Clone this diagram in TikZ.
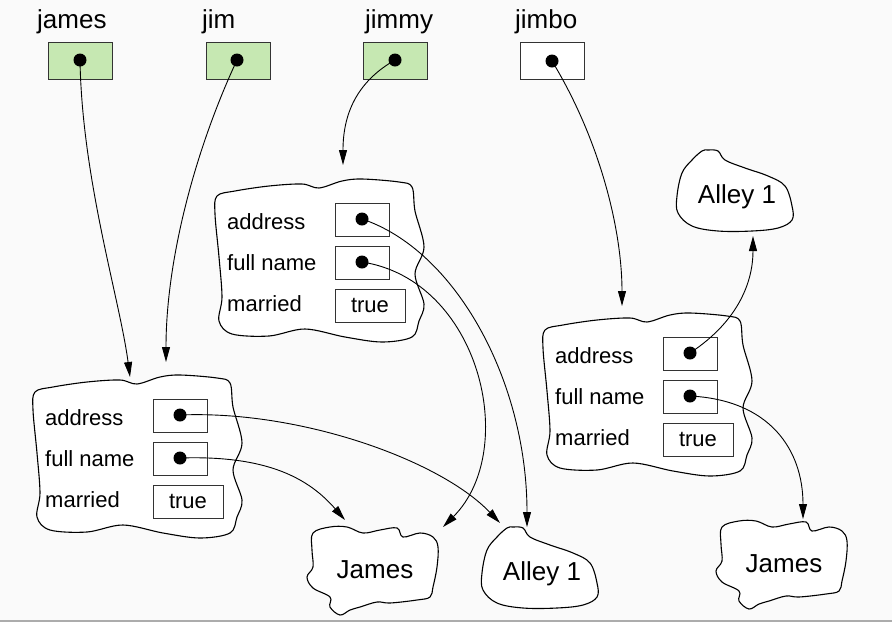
\documentclass[tikz,border=0pt]{standalone}
\usepackage{fontspec}
\setmainfont{Liberation Sans}
\usetikzlibrary{arrows.meta}

\definecolor{bgcol}{HTML}{FAFAFA}
\definecolor{varfill}{HTML}{C6E8B2}
\definecolor{edge}{HTML}{333333}

\tikzset{
  blob/.style={draw=black, line width=1.1pt, fill=white},
  cell/.style={draw=edge, line width=1.1pt, fill=white, inner sep=0pt, anchor=north west},
  varcell/.style={cell, fill=varfill, minimum width=64pt, minimum height=37pt},
  dot/.style={circle, fill=black, inner sep=0pt, minimum size=13pt},
  smalltext/.style={font=\fontsize{22}{26}\selectfont, inner sep=0pt},
  bigtext/.style={font=\fontsize{26}{30}\selectfont, inner sep=0pt},
  ptr/.style={line width=0.9pt, -{Triangle[length=15pt, width=8pt]}},
  % a record object: three labelled fields inside a wobbly outline
  record/.pic={
    \draw[blob] plot[smooth cycle, tension=0.55] coordinates {
      (-118,-7) (-100,-12) (-66,-17) (-33,-19) (-16,-15) (7,-22) (27,-24)
      (64,-21) (77,-16) (80,8) (89,44) (80,71) (89,101) (84,118) (77,134)
      (47,139) (10,134) (-30,126) (-66,133) (-103,131) (-116,118)
      (-113,94) (-116,54) (-120,11)};
    \node[cell, minimum width=54pt, minimum height=33pt] (-addr) at (0,0) {};
    \node[cell, minimum width=54pt, minimum height=33pt] (-name) at (0,43) {};
    \node[cell, minimum width=70pt, minimum height=33pt] (-flag) at (0,86) {};
    \node[dot] (-adot) at (27,16) {};
    \node[dot] (-ndot) at (27,59) {};
    \node[smalltext, anchor=base] (-true) at (35,109) {true};
    \node[smalltext, anchor=base west] (-la) at (-108,26) {address};
    \node[smalltext, anchor=base west] (-ln) at (-108,67) {full name};
    \node[smalltext, anchor=base west] (-lm) at (-108,108) {married};
  },
  % a name string object
  jamesblob/.pic={
    \draw[blob] plot[smooth cycle, tension=0.6] coordinates {
      (-62,-37) (-45,-43) (-28,-43) (-12,-37) (5,-40) (22,-42) (28,-33)
      (45,-37) (58,-33) (63,-23) (62,-3) (58,17) (55,27) (42,30) (15,33)
      (2,32) (-15,37) (-25,40) (-35,45) (-45,37) (-45,27) (-62,18)
      (-68,7) (-62,-3) (-63,-20)};
    \node[bigtext] (-t) at (0,0) {\tikzpictext};
  },
  % an address string object
  alleyblob/.pic={
    \draw[blob] plot[smooth cycle, tension=0.6] coordinates {
      (-29,-47) (-19,-46) (-12,-37) (8,-29) (31,-21) (48,-11) (55,9)
      (55,23) (41,31) (15,34) (-19,34) (-45,29) (-59,16) (-60,-1)
      (-55,-24) (-45,-37) (-35,-46)};
    \node[bigtext] (-t) at (0,0) {\tikzpictext};
  },
}

\begin{document}
\begin{tikzpicture}[x=1pt, y=-1pt]
  \fill[bgcol] (0,0) rectangle (892,622);
  \useasboundingbox (0,0) rectangle (892,622);
  \draw[gray!65, line width=1.2pt] (0,621) -- (892,621);

  % variables
  \node[bigtext, anchor=base west] (nJames) at (37,28) {james};
  \node[bigtext, anchor=base west] (nJim) at (202,28) {jim};
  \node[bigtext, anchor=base west] (nJimmy) at (365,28) {jimmy};
  \node[bigtext, anchor=base west] (nJimbo) at (515,28) {jimbo};
  \node[varcell] (vJames) at (48,42) {};
  \node[varcell] (vJim) at (206,42) {};
  \node[varcell] (vJimmy) at (363,42) {};
  \node[varcell, fill=white] (vJimbo) at (520,42) {};
  \node[dot] (dJames) at (80,60) {};
  \node[dot] (dJim) at (237,60) {};
  \node[dot] (dJimmy) at (395,60) {};
  \node[dot] (dJimbo) at (552,61) {};

  % objects
  \pic (r1) at (335,203) {record};
  \pic (r2) at (153,399) {record};
  \pic (r3) at (663,337) {record};
  \pic (j1) at (375,570) [pic text=James] {jamesblob};
  \pic (j2) at (784,564) [pic text=James] {jamesblob};
  \pic (a1) at (542,574) [pic text=Alley 1] {alleyblob};
  \pic (a2) at (737,197) [pic text=Alley 1] {alleyblob};

  % arrow ends
  \coordinate (tR2a) at (130,377);
  \coordinate (tR2b) at (166,362);
  \coordinate (tR1) at (343,165);
  \coordinate (tR3) at (622,306);
  \coordinate (tA1a) at (527,527);
  \coordinate (tA1b) at (500,523);
  \coordinate (tJ1a) at (443,527);
  \coordinate (tJ1b) at (345,520);
  \coordinate (tA2) at (753,236);
  \coordinate (tJ2) at (803,519);

  % references
  \draw[ptr] (dJames.center) .. controls (82,180) and (120,300) .. (tR2a);
  \draw[ptr] (dJim.center) .. controls (195,150) and (166,260) .. (tR2b);
  \draw[ptr] (dJimmy.center) .. controls (360,80) and (343,110) .. (tR1);
  \draw[ptr] (dJimbo.center) .. controls (600,140) and (622,230) .. (tR3);
  \draw[ptr] (r1-adot.center) .. controls (455,250) and (527,380) .. (tA1a);
  \draw[ptr] (r1-ndot.center) .. controls (480,280) and (520,450) .. (tJ1a);
  \draw[ptr] (r2-adot.center) .. controls (300,410) and (440,460) .. (tA1b);
  \draw[ptr] (r2-ndot.center) .. controls (270,455) and (310,480) .. (tJ1b);
  \draw[ptr] (r3-adot.center) .. controls (740,320) and (753,280) .. (tA2);
  \draw[ptr] (r3-ndot.center) .. controls (770,400) and (803,450) .. (tJ2);
\end{tikzpicture}
\end{document}
